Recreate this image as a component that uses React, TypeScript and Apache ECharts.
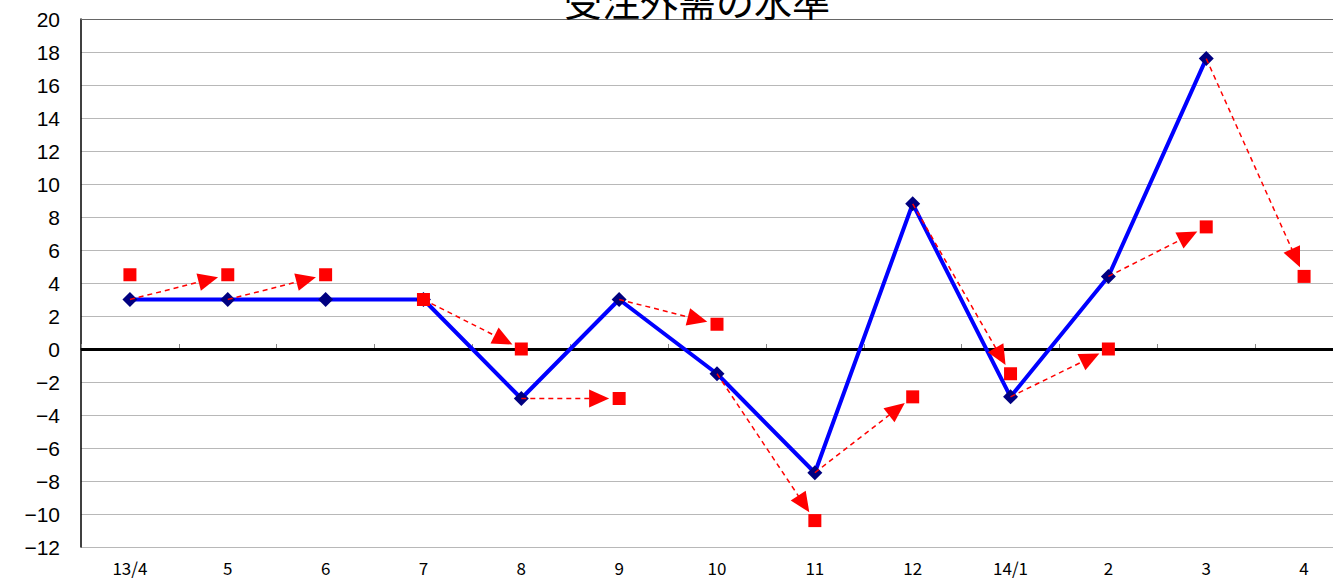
import React, { useEffect, useRef } from "react";
import * as echarts from "echarts";

const categories = ["13/4", "5", "6", "7", "8", "9", "10", "11", "12", "14/1", "2", "3", "4"];
const actual: (number | null)[] = [3, 3, 3, 3, -3, 3, -1.5, -7.5, 8.8, -2.9, 4.4, 17.6, null];
const forecast: (number | null)[] = [4.5, 4.5, 4.5, 3, 0, -3, 1.5, -10.4, -2.9, -1.5, 0, 7.4, 4.4];
// arrows go from the actual value of month i to the forecast for month i+1
const arrowFrom = [0, 1, 3, 4, 5, 6, 7, 8, 9, 10, 11];
const yTicks = { min: -12, max: 20, interval: 2 };
const titleText = "受注外需の水準";

const FONT = "'Noto Sans CJK JP', 'Noto Sans', sans-serif";
const NUMFONT = "'Liberation Sans', Arial, sans-serif";

export default function App() {
  const ref = useRef<HTMLDivElement>(null);
  useEffect(() => {
    if (!ref.current) return;
    const chart = echarts.init(ref.current, null, { renderer: "svg" });
    const arrowData = arrowFrom.map((i) => [i, actual[i] as number, i + 1, forecast[i + 1] as number]);
    chart.setOption({
      animation: false,
      backgroundColor: "#ffffff",
      textStyle: { fontFamily: FONT },
      graphic: [
        {
          type: "text",
          x: 697,
          y: 18,
          z: 10,
          style: {
            text: titleText,
            fontSize: 38,
            fontFamily: FONT,
            fill: "#000",
            align: "center",
            verticalAlign: "bottom",
          },
        },
      ],
      grid: {
        left: 81,
        top: 19,
        width: 1272,
        height: 528,
        containLabel: false,
        outerBoundsMode: "none",
      },
      xAxis: [
        {
          type: "category",
          data: categories,
          boundaryGap: true,
          axisLine: { show: true, lineStyle: { color: "#000", width: 1.5 } },
          axisTick: { show: true, inside: true, length: 5, lineStyle: { color: "#888" } },
          axisLabel: { color: "#000", fontSize: 17, margin: 12, fontFamily: FONT, lineHeight: 17 },
          splitLine: { show: false },
        },
        {
          type: "category",
          data: categories,
          position: "top",
          axisLine: { show: true, lineStyle: { color: "#666", width: 1 } },
          axisTick: { show: false },
          axisLabel: { show: false },
        },
      ],
      yAxis: {
        type: "value",
        min: yTicks.min,
        max: yTicks.max,
        interval: yTicks.interval,
        axisLine: { show: true, lineStyle: { color: "#000", width: 1.5 } },
        axisTick: { show: false },
        axisLabel: {
          color: "#000",
          fontSize: 21,
          margin: 21,
          fontFamily: NUMFONT,
          formatter: (v: number) => (v < 0 ? "\u2212" + Math.abs(v) : String(v)),
        },
        splitLine: { show: true, lineStyle: { color: "#b8b8b8", width: 1.2 } },
      },
      series: [
        {
          name: "実績",
          type: "line",
          data: actual,
          z: 3,
          symbol: "diamond",
          symbolSize: 15,
          itemStyle: { color: "#000080" },
          lineStyle: { color: "#0000ff", width: 4 },
          markLine: {
            silent: true,
            symbol: "none",
            label: { show: false },
            lineStyle: { color: "#000", width: 3, type: "solid" },
            data: [{ yAxis: 0 }],
            z: 2,
          },
        },
        {
          name: "矢印",
          type: "custom",
          z: 4,
          data: arrowData,
          encode: { x: [0, 2], y: [1, 3] },
          renderItem: (params: any, api: any) => {
            const p1 = api.coord([api.value(0), api.value(1)]);
            const p2 = api.coord([api.value(2), api.value(3)]);
            const dx = p2[0] - p1[0];
            const dy = p2[1] - p1[1];
            const len = Math.sqrt(dx * dx + dy * dy) || 1;
            const ux = dx / len;
            const uy = dy / len;
            const gap = 10;
            const head = 20;
            const half = 9;
            const tip = [p2[0] - ux * gap, p2[1] - uy * gap];
            const base = [tip[0] - ux * head, tip[1] - uy * head];
            const px = -uy;
            const py = ux;
            return {
              type: "group",
              children: [
                {
                  type: "line",
                  shape: { x1: p1[0], y1: p1[1], x2: base[0] + ux * 2, y2: base[1] + uy * 2 },
                  style: { stroke: "#ff0000", lineWidth: 1.5, lineDash: [5, 4] },
                },
                {
                  type: "polygon",
                  shape: {
                    points: [
                      tip,
                      [base[0] + px * half, base[1] + py * half],
                      [base[0] - px * half, base[1] - py * half],
                    ],
                  },
                  style: { fill: "#ff0000" },
                },
              ],
            };
          },
        },
        {
          name: "予測",
          type: "line",
          data: forecast,
          z: 5,
          symbol: "rect",
          symbolSize: 13,
          itemStyle: { color: "#ff0000" },
          lineStyle: { width: 0, opacity: 0 },
        },
      ],
    });
    return () => chart.dispose();
  }, []);
  return (
    <div
      ref={ref}
      style={{ position: "fixed", left: 0, top: 0, width: 1333, height: 580 }}
    />
  );
}
